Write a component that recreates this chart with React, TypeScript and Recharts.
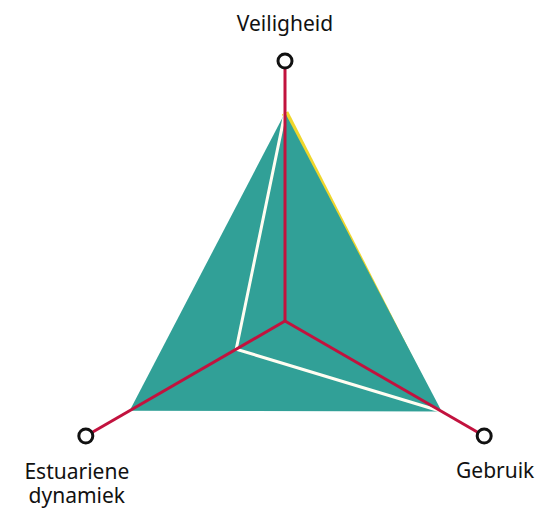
import React from 'react';
import { RadarChart, Radar, PolarAngleAxis, PolarRadiusAxis } from 'recharts';

const axes = ['Veiligheid', 'Gebruik', 'Estuariene dynamiek'];
const areaValues = [90.5, 78.7, 78];
const whiteValues = [90.5, 78.7, 24.5];
const yellowValues = [90.5, 75, 0];

const data = axes.map((axis, i) => ({
  axis,
  area: areaValues[i],
  white: whiteValues[i],
  yellow: yellowValues[i],
}));

const CX = 285;
const CY = 321;
const OUTER = 230;
const AXIS_LEN = [260, 230, 230];
const LABEL_OFFSET = [
  { dx: 0, dy: -30 },
  { dx: 11, dy: 42 },
  { dx: -9, dy: 43 },
];

const RED = '#c2123e';
const TEAL = '#31a097';
const YELLOW = '#efd62c';

const AxisTick = (props: any) => {
  const { x, y, payload, index } = props;
  const dx = x - CX;
  const dy = y - CY;
  const len = Math.hypot(dx, dy) || 1;
  const r = AXIS_LEN[index] ?? OUTER;
  const ex = CX + (dx / len) * r;
  const ey = CY + (dy / len) * r;
  const off = LABEL_OFFSET[index] ?? { dx: 0, dy: 0 };
  const lines = index === 2 ? String(payload.value).split(' ') : [String(payload.value)];
  return (
    <g>
      <line x1={CX} y1={CY} x2={ex} y2={ey} stroke={RED} strokeWidth={3} />
      <circle cx={ex} cy={ey} r={7} fill="#fff" stroke="#111" strokeWidth={3} />
      {lines.map((l, i) => (
        <text
          key={l}
          x={ex + off.dx}
          y={ey + off.dy + i * 24}
          textAnchor="middle"
          fill="#111"
          fontFamily="'Noto Sans', sans-serif"
          fontSize={21}
        >
          {l}
        </text>
      ))}
    </g>
  );
};

// open polyline through the given point order, instead of a closed polygon
const openLine = (order: number[], color: string, width: number) => (props: any) => {
  const pts = props.points || [];
  if (!pts.length) return null;
  const d = order
    .map((k, i) => `${i === 0 ? 'M' : 'L'}${pts[k].x},${pts[k].y}`)
    .join(' ');
  return <path d={d} fill="none" stroke={color} strokeWidth={width} strokeLinejoin="miter" />;
};

export default function App() {
  return (
    <div style={{ position: 'absolute', left: 0, top: 0, width: 553, height: 512, background: '#fff' }}>
      <RadarChart
        width={553}
        height={512}
        data={data}
        cx={CX}
        cy={CY}
        outerRadius={OUTER}
        margin={{ top: 0, right: 0, bottom: 0, left: 0 }}
      >
        <PolarRadiusAxis domain={[0, 100]} tick={false} axisLine={false} />
        <Radar
          dataKey="yellow"
          stroke={YELLOW}
          fill="none"
          isAnimationActive={false}
          shape={openLine([0, 1], YELLOW, 7)}
        />
        <Radar
          dataKey="area"
          stroke="none"
          fill={TEAL}
          fillOpacity={1}
          isAnimationActive={false}
        />
        <Radar
          dataKey="white"
          stroke="#fff"
          fill="none"
          isAnimationActive={false}
          shape={openLine([0, 2, 1], '#fffdf2', 3)}
        />
        <PolarAngleAxis dataKey="axis" axisLine={false} tickLine={false} tick={AxisTick} />
      </RadarChart>
    </div>
  );
}
